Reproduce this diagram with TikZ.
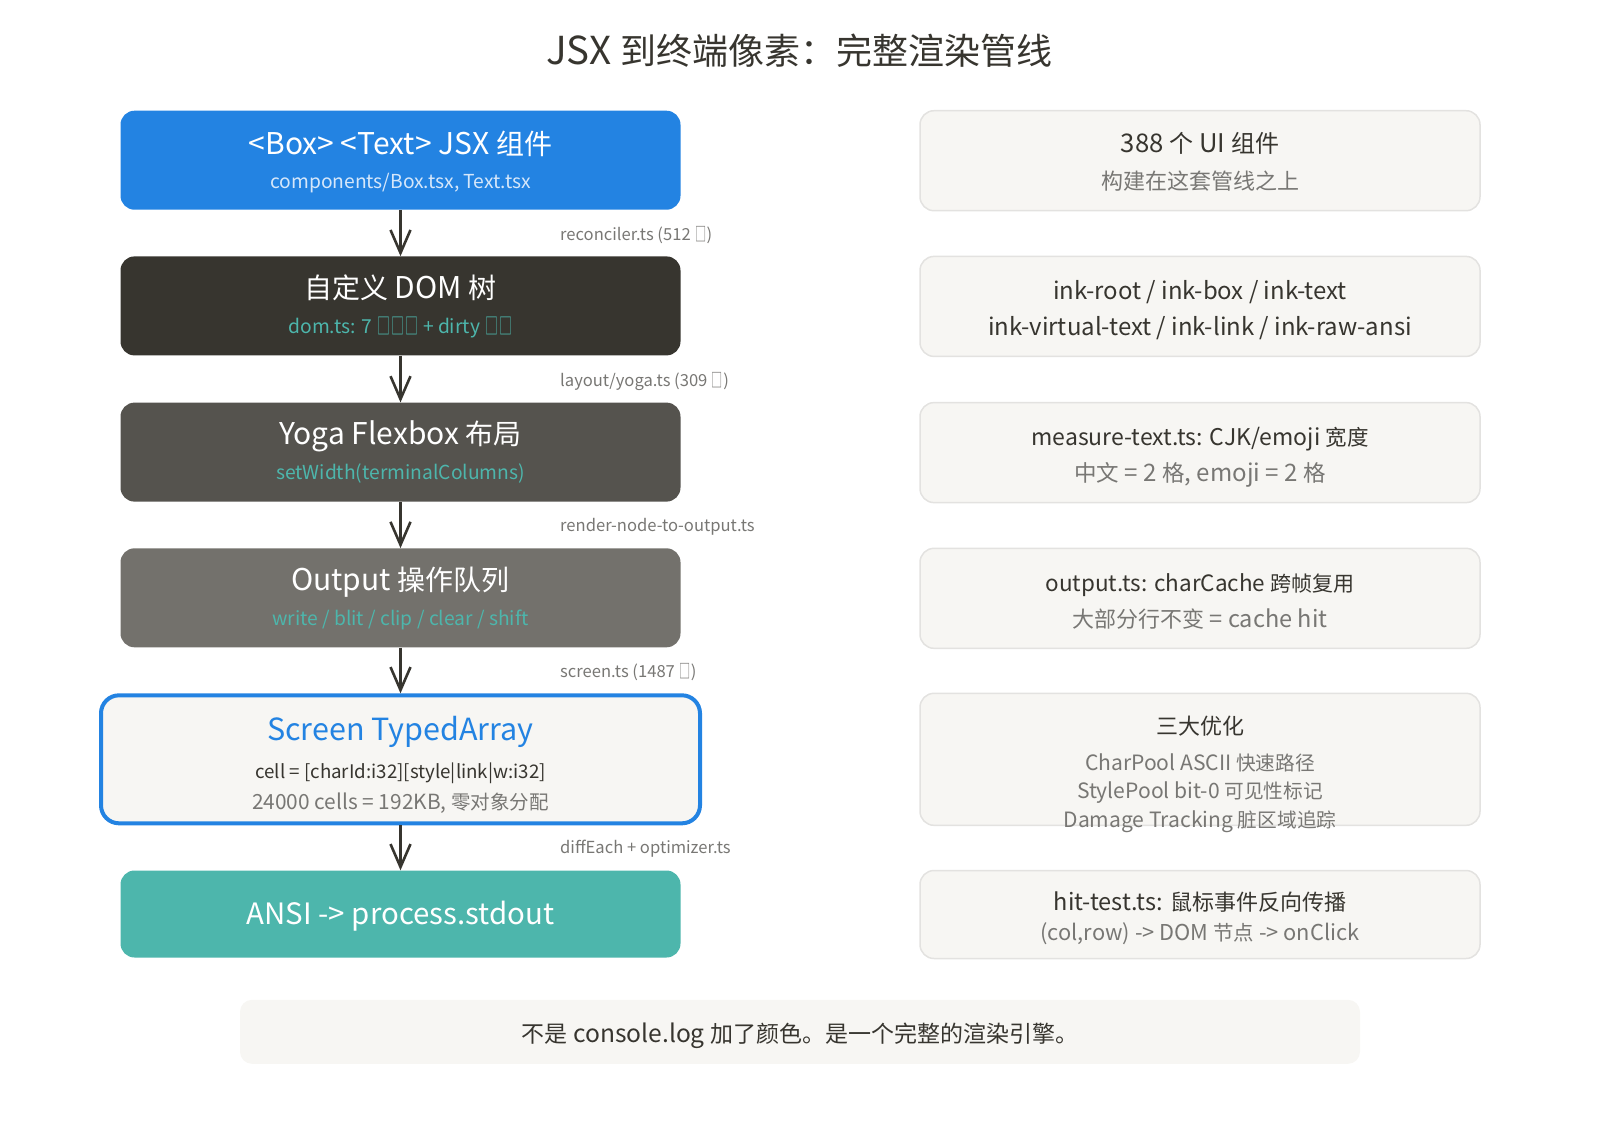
\documentclass[tikz,border=0pt]{standalone}
\usepackage{fontspec}
\usepackage{graphicx}
\setmainfont{Noto Sans CJK SC}[Scale=1.07]
\newfontfamily\cjkfont{Noto Sans CJK SC}
\newfontfamily\latfont{Noto Sans CJK SC}[Scale=1.07]
\usetikzlibrary{arrows.meta}
% automatic switch: CJK characters at nominal size, Latin slightly larger
\XeTeXinterchartokenstate=1
\newXeTeXintercharclass\cjkcls
\makeatletter
\count@="3000 \loop\XeTeXcharclass\count@=\cjkcls\advance\count@ 1 \ifnum\count@<"3040 \repeat
\count@="4E00 \loop\XeTeXcharclass\count@=\cjkcls\advance\count@ 1 \ifnum\count@<"A000 \repeat
\count@="FF00 \loop\XeTeXcharclass\count@=\cjkcls\advance\count@ 1 \ifnum\count@<"FFF0 \repeat
\XeTeXcharclass"25A1=\cjkcls
\makeatother
\XeTeXinterchartoks 0 \cjkcls = {\cjkfont}
\XeTeXinterchartoks 4095 \cjkcls = {\cjkfont}
\XeTeXinterchartoks \cjkcls 0 = {\latfont}
\XeTeXinterchartoks \cjkcls 4095 = {\latfont}
\newcommand\tofu{\kern0.04em\raisebox{-0.06em}{\scalebox{0.72}[1.25]{□}}\kern0.02em}
\definecolor{blueA}{HTML}{2383E2}
\definecolor{darkA}{HTML}{37352F}
\definecolor{darkB}{HTML}{55534E}
\definecolor{darkC}{HTML}{73716C}
\definecolor{tealA}{HTML}{4DB6AC}
\definecolor{paper}{HTML}{F7F6F3}
\definecolor{edgeG}{HTML}{E3E2E0}
\definecolor{grayT}{HTML}{787774}
\definecolor{lightB}{HTML}{D6E7FA}
\begin{document}
\begin{tikzpicture}[x=1pt,y=-1pt,
  txt/.style={anchor=base, inner sep=0pt, font=\fontsize{#1}{#1}\selectfont, yshift=-0.37*#1 pt},
  lbltxt/.style={anchor=base west, inner sep=0pt, font=\fontsize{15.5}{15.5}\selectfont, yshift=-0.37*15.5 pt, text=grayT},
  lbox/.style={draw=none, rounded corners=14pt, minimum width=560pt, minimum height=99pt, inner sep=0pt},
  rbox/.style={draw=edgeG, line width=1.5pt, fill=paper, rounded corners=14pt, minimum width=560pt, inner sep=0pt},
  arr/.style={draw=darkA, line width=2.6pt, -{Straight Barb[length=23pt,width=20pt,line width=2.6pt]}}
]
\useasboundingbox (0,0) rectangle (1600,1120);

% title
\node[txt=36, text=darkA] (title) at (799.5,51) {JSX 到终端像素：完整渲染管线};

% left pipeline
\node[lbox, fill=blueA] (b1) at (400.5,160.2) {};
\node[txt=28, text=white] (b1t) at (400.5,143.8) {<Box> <Text> JSX 组件};
\node[txt=18, text=lightB] (b1s) at (400.5,181.6) {components/Box.tsx, Text.tsx};

\node[lbox, fill=darkA] (b2) at (400.5,305.9) {};
\node[txt=28, text=white] (b2t) at (400.5,288) {自定义 DOM 树};
\node[txt=18, text=tealA] (b2s) at (400.5,326.8) {dom.ts: 7 \tofu\tofu\tofu{} + dirty \tofu\tofu};

\node[lbox, fill=darkB] (b3) at (400.5,452.1) {};
\node[txt=28, text=white] (b3t) at (400.5,434.2) {Yoga Flexbox 布局};
\node[txt=18, text=tealA] (b3s) at (400.5,473) {setWidth(terminalColumns)};

\node[lbox, fill=darkC] (b4) at (400.5,597.8) {};
\node[txt=28, text=white] (b4t) at (400.5,580.4) {Output 操作队列};
\node[txt=18, text=tealA] (b4s) at (400.5,619.1) {write / blit / clip / clear / shift};

\node[draw=blueA, line width=4pt, fill=paper, rounded corners=18pt, minimum width=599pt, minimum height=128pt, inner sep=0pt] (b5) at (400.5,759.3) {};
\node[txt=28.5, text=blueA] (b5t) at (400.5,729.5) {Screen TypedArray};
\node[txt=17.5, text=darkA] (b5a) at (400.5,772.2) {cell = [charId:i32][style|link|w:i32]};
\node[txt=19.5, text=grayT] (b5b) at (400.5,802.1) {24000 cells = 192KB, 零对象分配};

\node[lbox, fill=tealA, minimum height=87pt] (b6) at (400.5,914) {};
\node[txt=27.5, text=white] (b6t) at (400.5,914.5) {ANSI -> process.stdout};

% arrows
\draw[arr] (b1.south) -- (b2.north);
\draw[arr] (b2.south) -- (b3.north);
\draw[arr] (b3.south) -- (b4.north);
\draw[arr] (b4.south) -- (b5.north);
\draw[arr] (b5.south) -- (b6.north);

% arrow labels
\node[lbltxt] (l1) at (560,234.3) {reconciler.ts (512 \tofu)};
\node[lbltxt] (l2) at (560,380.5) {layout/yoga.ts (309 \tofu)};
\node[lbltxt] (l3) at (560,525.7) {render-node-to-output.ts};
\node[lbltxt] (l4) at (560,671.8) {screen.ts (1487 \tofu)};
\node[lbltxt] (l5) at (560,847.9) {diffEach + optimizer.ts};

% right column
\node[rbox, minimum height=100pt] (r1) at (1200,160.7) {};
\node[txt=24, text=darkA] (r1t) at (1200,143.8) {388 个 UI 组件};
\node[txt=22, text=grayT] (r1s) at (1200,181.6) {构建在这套管线之上};

\node[rbox, minimum height=100pt] (r2) at (1200,306.4) {};
\node[txt=22.4, text=darkA] (r2t) at (1200,291) {ink-root / ink-box / ink-text};
\node[txt=22.4, text=darkA] (r2s) at (1200,326.8) {ink-virtual-text / ink-link / ink-raw-ansi};

\node[rbox, minimum height=100pt] (r3) at (1200,452.6) {};
\node[txt=21.5, text=darkA] (r3t) at (1200,437.2) {measure-text.ts: CJK/emoji 宽度};
\node[txt=22.5, text=grayT] (r3s) at (1200,473) {中文 = 2 格, emoji = 2 格};

\node[rbox, minimum height=100pt] (r4) at (1200,598.3) {};
\node[txt=21, text=darkA] (r4t) at (1200,583.3) {output.ts: charCache 跨帧复用};
\node[txt=22, text=grayT] (r4s) at (1200,619.1) {大部分行不变 = cache hit};

\node[rbox, minimum height=132pt] (r5) at (1200,759.3) {};
\node[txt=22, text=darkA] (r5t) at (1200,726.5) {三大优化};
\node[txt=19.7, text=grayT] (r5a) at (1200,762.9) {CharPool ASCII 快速路径};
\node[txt=19.7, text=grayT] (r5b) at (1200,791.2) {StylePool bit-0 可见性标记};
\node[txt=19.7, text=grayT] (r5c) at (1200,820) {Damage Tracking 脏区域追踪};

\node[rbox, minimum height=88pt] (r6) at (1200,914.5) {};
\node[txt=22, text=darkA] (r6t) at (1200,902.5) {hit-test.ts: 鼠标事件反向传播};
\node[txt=20.4, text=grayT] (r6s) at (1200,933.4) {(col,row) -> DOM 节点 -> onClick};

% bottom note
\node[fill=paper, rounded corners=12pt, minimum width=1120pt, minimum height=64pt, inner sep=0pt] (note) at (800,1031.8) {};
\node[txt=23, text=darkA] (notet) at (800,1033.8) {不是 console.log 加了颜色。是一个完整的渲染引擎。};
\end{tikzpicture}
\end{document}
